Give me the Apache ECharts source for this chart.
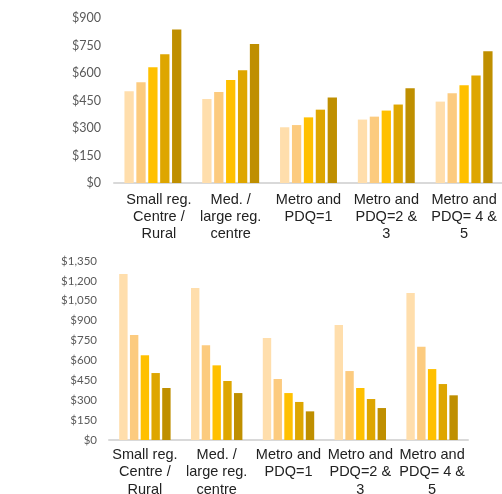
<!DOCTYPE html>
<html>
<head>
<meta charset="utf-8">
<style>
  html,body{margin:0;padding:0;background:#fff;}
  #chart{width:502px;height:494px;}
</style>
<script src="https://cdn.jsdelivr.net/npm/echarts@6/dist/echarts.min.js"></script>
</head>
<body>
<div id="chart"></div>
<script>
var categories = ['Small reg.\nCentre /\nRural', 'Med. /\nlarge reg.\ncentre', 'Metro and\nPDQ=1', 'Metro and\nPDQ=2 &\n3', 'Metro and\nPDQ= 4 &\n5'];

// top chart, five bars per group
var top1 = [500, 458, 304, 346, 444];
var top2 = [549, 496, 316, 362, 489];
var top3 = [631, 562, 358, 395, 533];
var top4 = [702, 615, 400, 428, 587];
var top5 = [837, 758, 466, 517, 718];

// bottom chart
var bot1 = [1252, 1146, 769, 867, 1109];
var bot2 = [792, 714, 460, 520, 704];
var bot3 = [639, 563, 354, 392, 535];
var bot4 = [505, 445, 287, 309, 422];
var bot5 = [392, 354, 216, 241, 337];

var colors = ['#FFDEAC', '#FCCB7F', '#FFC000', '#DEA600', '#BF8F00'];

var chart = echarts.init(document.getElementById('chart'));

function money(v){
  return '$' + String(v).replace(/\B(?=(\d{3})+(?!\d))/g, ',');
}

function xAxisFor(idx){
  var data = categories.map(function(c, i){
    // first label of the top chart sits a bit right of its bars
    if(idx == 0 && i == 0){
      return {value: c, textStyle: {padding: [0, 0, 0, 12]}};
    }
    return c;
  });
  return {
    type: 'category',
    gridIndex: idx,
    data: data,
    axisTick: {show: false},
    axisLine: {lineStyle: {color: '#d9d9d9', width: 2}},
    axisLabel: {
      interval: 0,
      margin: idx == 0 ? 8 : 6,
      fontFamily: 'Liberation Sans, Arial, sans-serif',
      fontSize: 14.5,
      lineHeight: idx == 0 ? 17 : 17.5,
      color: '#222'
    }
  };
}

function yAxisFor(idx, max, size, margin){
  return {
    type: 'value',
    gridIndex: idx,
    min: 0,
    max: max,
    interval: 150,
    splitLine: {show: false},
    axisLine: {show: false},
    axisTick: {show: false},
    axisLabel: {
      formatter: money,
      fontFamily: 'Lato, sans-serif',
      fontSize: size,
      margin: margin,
      color: '#595959'
    }
  };
}

function bars(list, idx, width){
  return list.map(function(d, i){
    return {
      type: 'bar',
      xAxisIndex: idx,
      yAxisIndex: idx,
      data: d,
      barWidth: width,
      barGap: '28%',
      itemStyle: {color: colors[i]},
      animation: false
    };
  });
}

chart.setOption({
  animation: false,
  grid: [
    {left: 114, top: 18, width: 389, height: 165, outerBoundsMode: 'none'},
    {left: 109, top: 261, width: 359, height: 179, outerBoundsMode: 'none'}
  ],
  xAxis: [xAxisFor(0), xAxisFor(1)],
  yAxis: [yAxisFor(0, 900, 12.5, 13), yAxisFor(1, 1350, 11.5, 12)],
  series: bars([top1, top2, top3, top4, top5], 0, 9.3)
    .concat(bars([bot1, bot2, bot3, bot4, bot5], 1, 8.4))
});
</script>
</body>
</html>
